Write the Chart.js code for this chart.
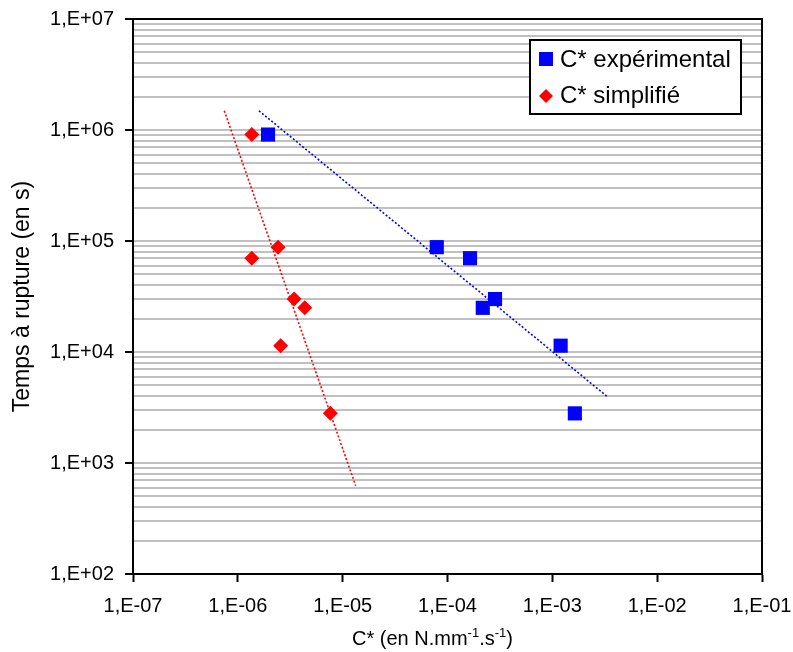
<!DOCTYPE html>
<html lang="fr">
<head>
<meta charset="UTF-8">
<title>Temps à rupture en fonction de C*</title>
<script src="https://cdn.jsdelivr.net/npm/chart.js"></script>
<style>
  html, body { margin: 0; padding: 0; background: #fff; }
  canvas { display: block; }
</style>
</head>
<body>
<canvas id="chart" width="793" height="652"></canvas>
<script>
// temps à rupture (s), même essais pour les deux séries
const ruptureTime = [9.1e5, 8.8e4, 7.0e4, 3.0e4, 2.5e4, 1.14e4, 2.8e3];
const cExperimental = [1.94e-6, 7.9e-5, 1.64e-4, 2.84e-4, 2.17e-4, 1.20e-3, 1.64e-3];
const cSimplified = [1.36e-6, 2.42e-6, 1.36e-6, 3.44e-6, 4.35e-6, 2.56e-6, 7.62e-6];

// courbes de tendance (extrémités)
const trendExpX = [1.59e-6, 3.3e-3];
const trendExpY = [1.49e6, 4.0e3];
const trendSimpX = [7.43e-7, 1.33e-5];
const trendSimpY = [1.49e6, 6.24e2];

const seriesLabels = ['C* expérimental', 'C* simplifié'];

const xDecades = [1e-7, 1e-6, 1e-5, 1e-4, 1e-3, 1e-2, 1e-1];
const xTickLabels = ['1,E-07', '1,E-06', '1,E-05', '1,E-04', '1,E-03', '1,E-02', '1,E-01'];
const yDecades = [1e2, 1e3, 1e4, 1e5, 1e6, 1e7];
const yTickLabels = ['1,E+02', '1,E+03', '1,E+04', '1,E+05', '1,E+06', '1,E+07'];

const FONT = "'Liberation Sans', Arial, sans-serif";
Chart.defaults.color = '#000';
Chart.defaults.font.family = FONT;

const pts = (xs, ys) => xs.map((x, i) => ({ x: x, y: ys[i] }));

// graduations mineures 2..9 de chaque décade
const yTicks = [];
yDecades.forEach((d, i) => {
    if (i === yDecades.length - 1) { yTicks.push({ value: d }); return; }
    for (let m = 1; m <= 9; m++) yTicks.push({ value: d * m });
});

const frame = {
    id: 'frame',
    afterDatasetsDraw(chart) {
        const { ctx, chartArea: a } = chart;
        ctx.save();
        ctx.strokeStyle = '#000';
        ctx.lineWidth = 2;
        ctx.strokeRect(a.left, a.top, a.right - a.left, a.bottom - a.top);
        ctx.restore();
    }
};

const boxLegend = {
    id: 'boxLegend',
    afterDraw(chart) {
        const { ctx, chartArea: a } = chart;
        const right = a.right - 21, top = a.top + 21;
        const w = 211, h = 74;
        const left = right - w;
        ctx.save();
        ctx.fillStyle = '#fff';
        ctx.fillRect(left, top, w, h);
        ctx.strokeStyle = '#000';
        ctx.lineWidth = 2;
        ctx.strokeRect(left, top, w, h);
        ctx.font = '24px ' + FONT;
        ctx.textBaseline = 'middle';
        const ds0 = chart.data.datasets[0], ds1 = chart.data.datasets[1];
        // carré bleu
        ctx.fillStyle = ds0.backgroundColor;
        ctx.fillRect(left + 9, top + 12, 14, 14);
        ctx.fillStyle = '#000';
        ctx.fillText(ds0.label, left + 30, top + 20);
        // losange rouge
        const cx = left + 16, cy = top + 56;
        ctx.fillStyle = ds1.backgroundColor;
        ctx.beginPath();
        ctx.moveTo(cx, cy - 7); ctx.lineTo(cx + 7, cy); ctx.lineTo(cx, cy + 7); ctx.lineTo(cx - 7, cy);
        ctx.closePath();
        ctx.fill();
        ctx.fillStyle = '#000';
        ctx.fillText(ds1.label, left + 30, top + 56);
        ctx.restore();
    }
};

const xTitle = {
    id: 'xTitle',
    afterDraw(chart) {
        const { ctx, chartArea: a } = chart;
        const parts = [
            ['C* (en N.mm', false], ['-1', true], ['.s', false], ['-1', true], [')', false]
        ];
        const big = '20px ' + FONT, small = '13px ' + FONT;
        ctx.save();
        let total = 0;
        parts.forEach(p => { ctx.font = p[1] ? small : big; total += ctx.measureText(p[0]).width; });
        let x = (a.left + a.right) / 2 - 15 - total / 2;
        const base = a.bottom + 71;
        ctx.fillStyle = '#000';
        ctx.textBaseline = 'alphabetic';
        parts.forEach(p => {
            ctx.font = p[1] ? small : big;
            ctx.fillText(p[0], x, p[1] ? base - 8 : base);
            x += ctx.measureText(p[0]).width;
        });
        ctx.restore();
    }
};

new Chart(document.getElementById('chart'), {
    type: 'scatter',
    data: {
        datasets: [
            {
                label: seriesLabels[0],
                data: pts(cExperimental, ruptureTime),
                pointStyle: 'rect',
                pointRadius: 10,
                pointBorderWidth: 0,
                backgroundColor: '#0000ff',
                borderColor: '#0000ff'
            },
            {
                label: seriesLabels[1],
                data: pts(cSimplified, ruptureTime),
                pointStyle: 'rectRot',
                pointRadius: 7.5,
                pointBorderWidth: 0,
                backgroundColor: '#ff0000',
                borderColor: '#ff0000'
            },
            {
                label: 'tendance expérimental',
                data: pts(trendExpX, trendExpY),
                showLine: true,
                pointRadius: 0,
                borderColor: '#0000ff',
                borderWidth: 1.6,
                borderDash: [2, 2]
            },
            {
                label: 'tendance simplifié',
                data: pts(trendSimpX, trendSimpY),
                showLine: true,
                pointRadius: 0,
                borderColor: '#ff0000',
                borderWidth: 1.6,
                borderDash: [2, 2]
            }
        ]
    },
    options: {
        responsive: false,
        animation: false,
        events: [],
        layout: { padding: { top: 19, right: 31, left: 0, bottom: 0 } },
        plugins: {
            legend: { display: false },
            tooltip: { enabled: false }
        },
        scales: {
            x: {
                type: 'logarithmic',
                min: 1e-7,
                max: 1e-1,
                afterBuildTicks: s => { s.ticks = xDecades.map(v => ({ value: v })); },
                afterFit: s => { s.height = 78; s.paddingLeft = 0; s.paddingRight = 0; },
                border: { display: true, color: '#000', width: 2 },
                grid: { drawOnChartArea: false, drawTicks: true, tickLength: 8, tickColor: '#000', tickWidth: 2 },
                ticks: {
                    autoSkip: false,
                    maxRotation: 0,
                    padding: 12,
                    font: { size: 20 },
                    callback: v => { const k = xDecades.indexOf(v); return k >= 0 ? xTickLabels[k] : ''; }
                }
            },
            y: {
                type: 'logarithmic',
                min: 1e2,
                max: 1e7,
                afterBuildTicks: s => { s.ticks = yTicks.map(t => ({ value: t.value })); },
                afterFit: s => { s.width = 133; s.paddingTop = 0; s.paddingBottom = 0; },
                border: { display: true, color: '#000', width: 2 },
                grid: {
                    color: '#c0c0c0',
                    lineWidth: 2,
                    tickLength: 8,
                    tickWidth: 2,
                    tickColor: c => (c.tick && yDecades.includes(c.tick.value)) ? '#000' : 'rgba(0,0,0,0)'
                },
                ticks: {
                    autoSkip: false,
                    padding: 11,
                    font: { size: 20 },
                    callback: v => { const k = yDecades.indexOf(v); return k >= 0 ? yTickLabels[k] : ''; }
                },
                title: {
                    display: true,
                    text: 'Temps à rupture (en s)',
                    font: { size: 23 },
                    padding: { top: 9, bottom: 0 }
                }
            }
        }
    },
    plugins: [frame, boxLegend, xTitle]
});
</script>
</body>
</html>
